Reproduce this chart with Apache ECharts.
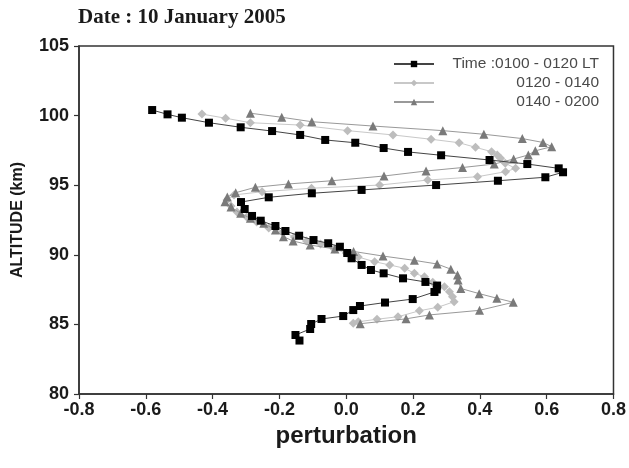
<!DOCTYPE html>
<html>
<head>
<meta charset="utf-8">
<script src="https://cdn.jsdelivr.net/npm/echarts@6/dist/echarts.min.js"></script>
<style>
  html, body { margin: 0; padding: 0; background: #fff; }
  #chart { width: 629px; height: 468px; }
</style>
</head>
<body>
<div id="chart"></div>
<script>
// Perturbation profiles, 10 January 2005 (x = perturbation, y = altitude in km)
const seriesNames = ['Time :0100 - 0120 LT', '0120 - 0140', '0140 - 0200'];

const pertA = [-0.581,-0.535,-0.492,-0.411,-0.316,-0.222,-0.138,-0.063,0.027,0.112,0.185,0.284,0.429,0.542,0.636,0.649,0.596,0.454,0.269,0.046,-0.103,-0.232,-0.315,-0.304,-0.282,-0.256,-0.212,-0.182,-0.141,-0.098,-0.054,-0.019,0.003,0.016,0.046,0.074,0.112,0.170,0.237,0.272,0.271,0.264,0.199,0.116,0.041,0.021,-0.009,-0.074,-0.105,-0.108,-0.152,-0.140];
const altA  = [100.40,100.09,99.85,99.49,99.16,98.89,98.61,98.25,98.05,97.67,97.39,97.15,96.81,96.52,96.21,95.93,95.57,95.32,95.01,94.66,94.42,94.13,93.79,93.29,92.79,92.45,92.07,91.71,91.37,91.06,90.83,90.58,90.13,89.75,89.27,88.91,88.67,88.31,88.05,87.79,87.51,87.33,86.82,86.57,86.32,86.03,85.60,85.39,85.03,84.67,84.24,83.84];

const pertB = [-0.432,-0.361,-0.287,-0.138,0.004,0.140,0.254,0.338,0.387,0.435,0.452,0.462,0.476,0.507,0.477,0.393,0.244,0.100,-0.104,-0.252,-0.336,-0.357,-0.345,-0.327,-0.298,-0.268,-0.232,-0.190,-0.155,-0.119,-0.077,-0.036,0.000,0.036,0.085,0.130,0.175,0.204,0.234,0.259,0.294,0.309,0.318,0.323,0.274,0.219,0.155,0.092,0.036,0.021];
const altB  = [100.11,99.81,99.49,99.32,98.92,98.61,98.30,98.05,97.72,97.41,97.17,96.93,96.57,96.21,95.97,95.61,95.37,95.01,94.78,94.53,94.30,93.94,93.51,93.07,92.72,92.36,91.93,91.64,91.28,90.99,90.78,90.42,90.13,89.84,89.50,89.27,89.03,88.67,88.43,88.02,87.71,87.35,86.99,86.63,86.23,85.98,85.55,85.37,85.19,85.08];

const pertC = [-0.287,-0.193,-0.103,0.080,0.289,0.412,0.527,0.589,0.615,0.566,0.545,0.501,0.443,0.348,0.239,0.113,-0.043,-0.173,-0.272,-0.331,-0.356,-0.363,-0.345,-0.316,-0.287,-0.247,-0.212,-0.188,-0.159,-0.108,-0.034,0.022,0.110,0.204,0.272,0.313,0.333,0.335,0.343,0.398,0.451,0.500,0.399,0.249,0.179,0.042];
const altC  = [100.17,99.88,99.56,99.25,98.92,98.66,98.35,98.07,97.77,97.47,97.17,96.88,96.52,96.27,96.02,95.66,95.32,95.09,94.85,94.46,94.15,93.81,93.43,92.98,92.62,92.26,91.78,91.30,90.99,90.70,90.42,90.24,89.91,89.60,89.34,88.97,88.55,88.19,87.58,87.21,86.88,86.59,86.01,85.68,85.40,85.05];

const xTicks = { min: -0.8, max: 0.8, step: 0.2 };
const yTicks = { min: 80, max: 105, step: 5 };

const pairs = (xs, ys) => xs.map((v, i) => [v, ys[i]]);

const chart = echarts.init(document.getElementById('chart'), null, { renderer: 'canvas' });

const sans = 'Liberation Sans, Arial, sans-serif';
const tickFont = { fontFamily: sans, fontWeight: 'bold', fontSize: 18, color: '#1a1a1a' };

chart.setOption({
  animation: false,
  backgroundColor: '#ffffff',
  title: {
    text: 'Date : 10 January 2005',
    left: 78,
    top: 7,
    padding: 0,
    textStyle: { fontFamily: 'Liberation Serif, Times New Roman, serif', fontWeight: 'bold', fontSize: 21, color: '#1a1a1a' }
  },
  grid: {
    left: 79, right: 12, top: 46, bottom: 74,
    show: true, borderColor: '#333', borderWidth: 1.5, backgroundColor: 'transparent'
  },
  legend: {
    right: 30,
    top: 55,
    padding: 0,
    orient: 'vertical',
    itemGap: 1,
    itemWidth: 40,
    itemHeight: 8,
    data: seriesNames,
    formatter: name => '{t|' + name + '}',
    textStyle: {
      rich: {
        t: { width: 160, height: 18, align: 'right', lineHeight: 18, fontFamily: sans, fontSize: 15.5, color: '#4a4a4a' }
      }
    }
  },
  xAxis: {
    type: 'value',
    min: xTicks.min, max: xTicks.max, interval: xTicks.step,
    name: 'perturbation',
    nameLocation: 'middle',
    nameGap: 30,
    nameTextStyle: { fontFamily: sans, fontWeight: 'bold', fontSize: 24, color: '#1a1a1a' },
    axisLine: { show: true, onZero: false, lineStyle: { color: '#333', width: 1.5 } },
    axisTick: { show: true, inside: false, length: 5, lineStyle: { color: '#333', width: 1.2 } },
    axisLabel: Object.assign({ margin: 7, formatter: v => v.toFixed(1) }, tickFont),
    splitLine: { show: false }
  },
  yAxis: {
    type: 'value',
    min: yTicks.min, max: yTicks.max, interval: yTicks.step,
    name: 'ALTITUDE (km)',
    nameLocation: 'middle',
    nameGap: 53,
    nameRotate: 90,
    nameTextStyle: { fontFamily: sans, fontWeight: 'bold', fontSize: 16, color: '#1a1a1a' },
    axisLine: { show: true, onZero: false, lineStyle: { color: '#333', width: 1.5 } },
    axisTick: { show: true, inside: false, length: 5, lineStyle: { color: '#333', width: 1.2 } },
    axisLabel: Object.assign({ margin: 10 }, tickFont),
    splitLine: { show: false }
  },
  series: [
    {
      name: seriesNames[0],
      type: 'line',
      data: pairs(pertA, altA),
      symbol: 'rect',
      symbolSize: 8,
      itemStyle: { color: '#000' },
      lineStyle: { color: '#444', width: 1 },
      z: 4
    },
    {
      name: seriesNames[1],
      type: 'line',
      data: pairs(pertB, altB),
      symbol: 'diamond',
      symbolSize: 9,
      itemStyle: { color: '#bdbdbd' },
      lineStyle: { color: '#c8c8c8', width: 1 },
      z: 2
    },
    {
      name: seriesNames[2],
      type: 'line',
      data: pairs(pertC, altC),
      symbol: 'triangle',
      symbolSize: 9,
      itemStyle: { color: '#7a7a7a' },
      lineStyle: { color: '#999', width: 1 },
      z: 3
    }
  ]
});
</script>
</body>
</html>
